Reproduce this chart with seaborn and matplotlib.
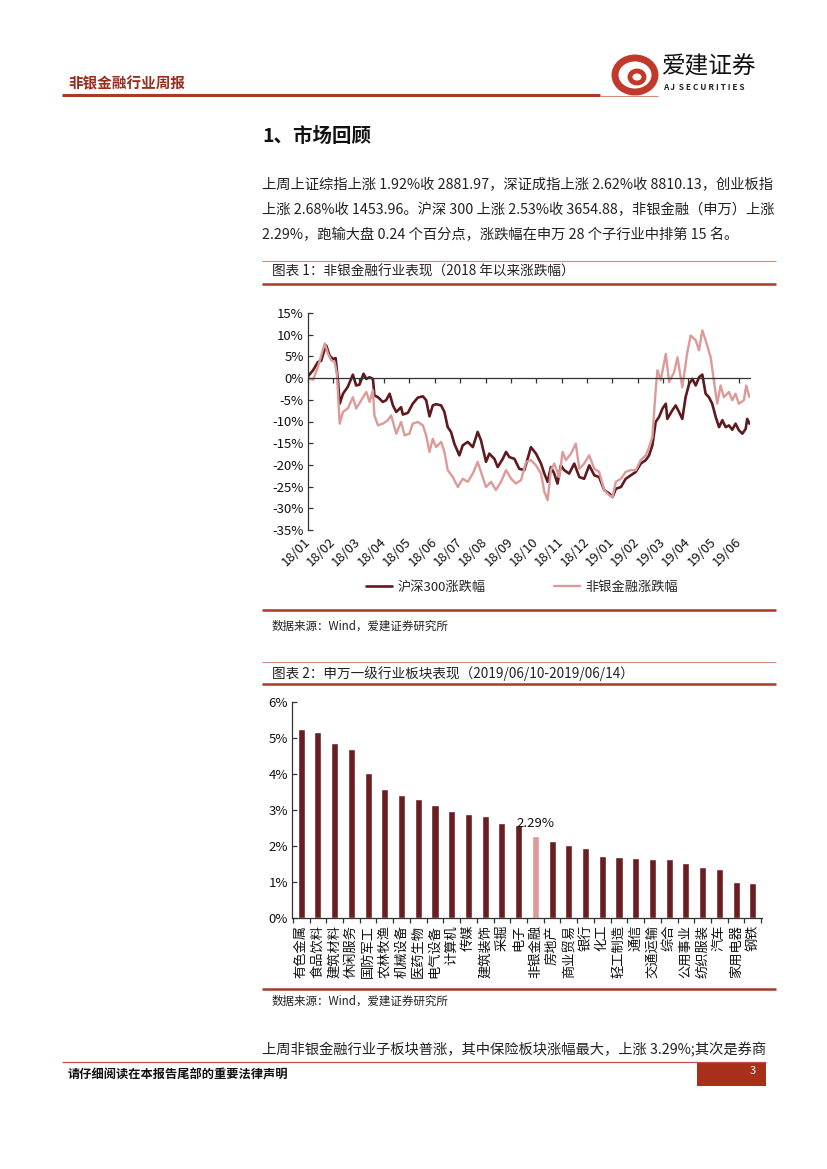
import numpy as np
import pandas as pd
import matplotlib.pyplot as plt
import seaborn as sns
from matplotlib.lines import Line2D
from matplotlib.patches import Rectangle, Ellipse

W, H = 827, 1169

# chart 1: months since 2018/01 and cumulative change (%)
hs300_t = [0, 0.20, 0.39, 0.52, 0.66, 0.72, 0.85, 0.98, 1.09, 1.18, 1.25, 1.38, 1.57, 1.77, 1.90,
           2.03, 2.19, 2.30, 2.43, 2.56, 2.62, 2.76, 2.95, 3.08, 3.22, 3.35, 3.48, 3.67, 3.74, 3.94,
           4.13, 4.33, 4.53, 4.66, 4.79, 4.92, 5.05, 5.25, 5.38, 5.51, 5.64, 5.77, 5.97, 6.10, 6.30,
           6.50, 6.69, 6.82, 7.02, 7.15, 7.35, 7.48, 7.68, 7.81, 7.94, 8.14, 8.33, 8.53, 8.66, 8.79,
           8.99, 9.19, 9.32, 9.45, 9.58, 9.71, 9.84, 9.97, 10.10, 10.30, 10.50, 10.70, 10.89, 11.09,
           11.29, 11.48, 11.68, 11.88, 12.01, 12.14, 12.34, 12.53, 12.73, 12.93, 13.12, 13.32, 13.45,
           13.58, 13.71, 13.84, 13.98, 14.11, 14.17, 14.37, 14.50, 14.63, 14.76, 14.89, 15.03, 15.16,
           15.29, 15.42, 15.55, 15.68, 15.81, 15.94, 16.08, 16.21, 16.34, 16.47, 16.60, 16.73, 16.86,
           16.99, 17.13, 17.26, 17.32, 17.41]
hs300_v = [0.4, 1.8, 3.7, 4.0, 6.7, 7.5, 5.2, 4.4, 4.6, -0.5, -5.9, -3.6, -2.0, 0.8, -1.7,
           -1.5, 1.0, -0.2, 0.2, -0.2, -4.0, -4.4, -5.5, -5.1, -3.6, -6.3, -7.8, -6.7, -8.4, -8.0,
           -5.9, -4.5, -4.2, -5.1, -8.8, -6.3, -6.0, -6.3, -7.8, -11.3, -12.4, -15.1, -17.8, -15.5, -14.7,
           -15.9, -12.4, -14.3, -19.3, -17.4, -18.6, -20.5, -18.6, -17.0, -18.2, -18.6, -20.9, -21.2, -18.6, -15.9,
           -17.4, -19.7, -22.0, -23.9, -20.5, -22.0, -24.3, -20.1, -21.2, -22.0, -19.7, -22.8, -23.2, -20.1,
           -22.4, -22.8, -25.8, -26.6, -27.4, -25.5, -25.1, -23.2, -22.4, -21.6, -19.7, -18.9, -17.8,
           -15.5, -10.1, -9.0, -7.0, -5.9, -9.4, -7.4, -6.3, -7.8, -9.4, -4.4, -1.3, -0.2,
           -1.7, 0.2, 0.8, -3.6, -4.4, -5.9, -9.0, -11.3, -9.7, -11.3, -10.9, -11.9, -10.5,
           -12.0, -12.8, -11.7, -9.4, -10.5]

fin_t = [0, 0.20, 0.39, 0.52, 0.66, 0.79, 0.92, 1.05, 1.14, 1.25, 1.38, 1.57, 1.77, 1.90, 2.10,
         2.30, 2.43, 2.56, 2.62, 2.76, 2.95, 3.15, 3.28, 3.48, 3.67, 3.81, 4.00, 4.13, 4.33, 4.53,
         4.66, 4.79, 4.92, 5.05, 5.25, 5.38, 5.51, 5.71, 5.91, 6.10, 6.30, 6.50, 6.69, 6.82, 7.02,
         7.22, 7.41, 7.61, 7.81, 8.01, 8.20, 8.40, 8.60, 8.79, 8.99, 9.19, 9.32, 9.45, 9.58, 9.71,
         9.91, 10.04, 10.17, 10.37, 10.56, 10.70, 10.89, 11.09, 11.29, 11.48, 11.68, 11.88, 12.01,
         12.14, 12.34, 12.53, 12.73, 12.93, 13.12, 13.32, 13.45, 13.58, 13.71, 13.78, 13.91, 14.11,
         14.24, 14.44, 14.57, 14.76, 14.96, 15.09, 15.29, 15.42, 15.55, 15.68, 15.88, 16.01, 16.14,
         16.27, 16.40, 16.60, 16.73, 16.86, 16.99, 17.19, 17.28, 17.41]
fin_v = [0, -0.4, 2.5, 5.2, 8.0, 5.6, 4.1, 3.7, 1.0, -10.5, -7.8, -7.0, -4.4, -7.0, -5.1,
         -3.2, -5.5, -2.8, -8.6, -10.9, -10.5, -9.7, -8.6, -12.8, -10.1, -13.2, -12.8, -10.5, -10.1, -10.9,
         -13.2, -17.0, -14.0, -15.9, -14.7, -17.0, -21.2, -22.8, -25.1, -23.2, -23.9, -22.0, -19.3, -21.6, -25.1,
         -23.9, -25.8, -23.9, -21.2, -23.2, -24.3, -23.5, -19.3, -18.9, -20.1, -22.0, -26.2, -28.1, -21.2, -19.7,
         -22.8, -17.0, -18.9, -17.4, -15.1, -20.9, -19.7, -17.8, -20.9, -21.6, -25.8, -27.0, -27.4,
         -23.9, -23.2, -21.6, -21.2, -21.2, -18.9, -17.8, -15.9, -13.6, -2.8, 1.8, -0.5, 5.6,
         -0.9, 1.4, 4.8, -2.1, 6.0, 9.8, 8.7, 6.4, 11.0, 8.7, 4.8, -0.9, -5.9,
         -1.7, -4.4, -3.2, -5.1, -3.6, -5.9, -5.1, -1.7, -4.4]

month_labels = ['18/01', '18/02', '18/03', '18/04', '18/05', '18/06', '18/07', '18/08', '18/09',
                '18/10', '18/11', '18/12', '19/01', '19/02', '19/03', '19/04', '19/05', '19/06']

# chart 2: weekly change of SW level-1 industries (%)
industries = ['有色金属', '食品饮料', '建筑材料', '休闲服务', '国防军工', '农林牧渔', '机械设备',
              '医药生物', '电气设备', '计算机', '传媒', '建筑装饰', '采掘', '电子', '非银金融',
              '房地产', '商业贸易', '银行', '化工', '轻工制造', '通信', '交通运输', '综合',
              '公用事业', '纺织服装', '汽车', '家用电器', '钢铁']
weekly_chg = [5.24, 5.18, 4.85, 4.69, 4.02, 3.59, 3.42, 3.30, 3.14, 2.97, 2.88, 2.83, 2.63, 2.59,
              2.29, 2.14, 2.02, 1.95, 1.71, 1.69, 1.68, 1.64, 1.63, 1.52, 1.43, 1.37, 0.99, 0.98]

DARK = '#5e1a1f'
PINK = '#dc9a98'
RED = '#a83a26'
THIN = '#cf8c7c'

sns.set_theme(style='white')
plt.rcParams['font.family'] = ['Noto Sans CJK SC', 'DejaVu Sans']
plt.rcParams['axes.unicode_minus'] = False

fig = plt.figure(figsize=(W / 100, H / 100), dpi=100)


def fx(x):
    return x / W


def fy(y):
    return 1 - y / H


def hline(x0, x1, y, color, lw):
    fig.add_artist(Line2D([fx(x0), fx(x1)], [fy(y), fy(y)], transform=fig.transFigure,
                          color=color, lw=lw, solid_capstyle='butt'))


def txt(x, y, s, **kw):
    kw.setdefault('va', 'center')
    kw.setdefault('color', '#222222')
    fig.text(fx(x), fy(y), s, **kw)


# header
txt(68, 83, '非银金融行业周报', fontsize=10.5, fontweight='bold', color='#9e2a1e')
hline(62, 600, 95, RED, 2.2)
hline(600, 658, 95.5, THIN, 0.8)
fig.add_artist(Ellipse((fx(635), fy(75)), 40 / W, 34 / H, transform=fig.transFigure,
                       facecolor='none', edgecolor='#c0392b', lw=5))
fig.add_artist(Ellipse((fx(637), fy(77)), 14 / W, 12 / H, transform=fig.transFigure,
                       facecolor='none', edgecolor='#c0392b', lw=3.5))
txt(662, 67, '爱建证券', fontsize=17, color='#111111')
txt(663, 88, 'A J  S E C U R I T I E S', fontsize=6, fontweight='bold', color='#222222')

# section text
txt(262, 137, '1、市场回顾', fontsize=14, fontweight='bold', color='#111111')
para = ['上周上证综指上涨 1.92%收 2881.97，深证成指上涨 2.62%收 8810.13，创业板指',
        '上涨 2.68%收 1453.96。沪深 300 上涨 2.53%收 3654.88，非银金融（申万）上涨',
        '2.29%，跑输大盘 0.24 个百分点，涨跌幅在申万 28 个子行业中排第 15 名。']
for i, line in enumerate(para):
    txt(262, 185 + i * 25, line, fontsize=10.3)

# chart 1 frame
hline(262, 776, 261, THIN, 0.8)
txt(272, 272, '图表 1：非银金融行业表现（2018 年以来涨跌幅）', fontsize=9.8)
hline(262, 776, 284, RED, 1.8)
hline(262, 776, 610, RED, 1.8)
txt(272, 626, '数据来源：Wind，爱建证券研究所', fontsize=8.3)

ax = fig.add_axes([fx(308), fy(530), (750 - 308) / W, (530 - 313) / H])
sns.lineplot(x=hs300_t, y=hs300_v, ax=ax, color=DARK, lw=1.9, label='沪深300涨跌幅', estimator=None)
sns.lineplot(x=fin_t, y=fin_v, ax=ax, color=PINK, lw=1.7, label='非银金融涨跌幅', estimator=None)
ax.set_xlim(0, 17.43)
ax.set_ylim(-35, 15)
ax.set_yticks(range(-35, 16, 5))
ax.set_yticklabels([f'{v}%' for v in range(-35, 16, 5)], fontsize=9.5, color='#111111')
for s in ['top', 'right']:
    ax.spines[s].set_visible(False)
ax.spines['bottom'].set_position(('data', 0))
for s in ['left', 'bottom']:
    ax.spines[s].set_color('#333333')
    ax.spines[s].set_linewidth(0.9)
ax.set_xticks(range(18))
ax.set_xticklabels([])
ax.tick_params(axis='x', direction='out', length=3.5, width=0.9, color='#333333', bottom=True)
ax.tick_params(axis='y', direction='in', length=3.5, width=0.9, color='#333333', left=True, pad=3)
sec = ax.secondary_xaxis('bottom')
sec.spines['bottom'].set_visible(False)
sec.set_xticks(range(18))
sec.set_xticklabels(month_labels, fontsize=9.5, color='#111111')
sec.tick_params(length=0, pad=7)
for lab in sec.get_xticklabels():
    lab.set_rotation(45)
    lab.set_ha('right')
    lab.set_va('center')
    lab.set_rotation_mode('anchor')
ax.set_xlabel('')
ax.legend(loc='center', bbox_to_anchor=(fx(522), fy(587)), bbox_transform=fig.transFigure,
          ncol=2, frameon=False, fontsize=9.5, handlelength=2.0, columnspacing=5.2,
          handletextpad=0.4)

# chart 2 frame
hline(262, 776, 662, THIN, 0.8)
txt(272, 674, '图表 2：申万一级行业板块表现（2019/06/10-2019/06/14）', fontsize=9.8)
hline(262, 776, 684, RED, 1.8)
hline(262, 776, 989, RED, 1.8)
txt(272, 1001, '数据来源：Wind，爱建证券研究所', fontsize=8.3)

ax2 = fig.add_axes([fx(292), fy(918), (762 - 292) / W, (918 - 702) / H])
pal = {name: (PINK if name == '非银金融' else '#6b1e22') for name in industries}
df2 = pd.DataFrame({'industry': industries, 'chg': weekly_chg})
sns.barplot(data=df2, x='industry', y='chg', hue='industry', palette=pal, legend=False,
            width=0.42, ax=ax2, saturation=1)
ax2.set_xlim(-0.55, len(industries) - 0.45)
ax2.set_ylim(0, 6)
ax2.set_yticks(range(7))
ax2.set_yticklabels([f'{v}%' for v in range(7)], fontsize=9.5, color='#111111')
ax2.set_xticks(range(len(industries)))
ax2.set_xticklabels(industries, rotation=90, fontsize=9.5, color='#111111')
ax2.set_xticks(np.arange(-0.5, len(industries)), minor=True)
ax2.tick_params(axis='x', which='major', length=0, pad=5)
ax2.tick_params(axis='x', which='minor', direction='out', length=3.5, width=0.9,
                color='#333333', bottom=True)
ax2.tick_params(axis='y', direction='in', length=3.5, width=0.9, color='#333333', left=True, pad=3)
for s in ['top', 'right']:
    ax2.spines[s].set_visible(False)
for s in ['left', 'bottom']:
    ax2.spines[s].set_color('#333333')
    ax2.spines[s].set_linewidth(0.9)
ax2.set_xlabel('')
ax2.set_ylabel('')
k = industries.index('非银金融')
ax2.text(k, weekly_chg[k] + 0.15, f'{weekly_chg[k]:.2f}%', ha='center', va='bottom',
         fontsize=9.5, color='#111111')

# closing text and footer
txt(262, 1050, '上周非银金融行业子板块普涨，其中保险板块涨幅最大，上涨 3.29%;其次是券商', fontsize=10.3)
hline(62, 766, 1062, '#c0504d', 0.9)
fig.add_artist(Rectangle((fx(697), fy(1086)), 69 / W, 24 / H, transform=fig.transFigure,
                         facecolor='#a8301a', edgecolor='none'))
txt(756, 1071, '3', fontsize=8, color='white', ha='right')
txt(68, 1075, '请仔细阅读在本报告尾部的重要法律声明', fontsize=8.8, fontweight='bold', color='#111111')

fig.savefig('out.png', dpi=100)
